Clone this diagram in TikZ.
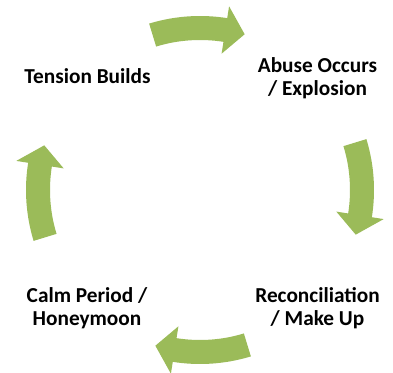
\documentclass[tikz,border=0pt]{standalone}
\usepackage{fontspec}
\setmainfont{Carlito}
\usepackage{xcolor}
\definecolor{arrowgreen}{HTML}{9BBB59}
\tikzset{
  cyclearrow/.style={fill=arrowgreen},
  phase/.style={align=center,inner sep=0,font=\bfseries\fontsize{21.3}{22.7}\selectfont}
}

\begin{document}
\begin{tikzpicture}[x=1pt,y=1pt]
\useasboundingbox (0,0) rectangle (393,372);
\begin{scope}[shift={(200,182)}]
% top
\fill[cyclearrow] (107:174) arc[start angle=107,end angle=81,radius=174] -- (81:186) -- (74:162) -- (81:138) -- (81:150) arc[start angle=81,end angle=107,radius=150] -- cycle;
% right
\fill[cyclearrow] (17:174) arc[start angle=17,end angle=-9,radius=174] -- (-9:186) -- (-16:162) -- (-9:138) -- (-9:150) arc[start angle=-9,end angle=17,radius=150] -- cycle;
% bottom
\fill[cyclearrow] (-73:174) arc[start angle=-73,end angle=-99,radius=174] -- (-99:186) -- (-106:162) -- (-99:138) -- (-99:150) arc[start angle=-99,end angle=-73,radius=150] -- cycle;
% left
\fill[cyclearrow] (197:174) arc[start angle=197,end angle=171,radius=174] -- (171:186) -- (164:162) -- (171:138) -- (171:150) arc[start angle=171,end angle=197,radius=150] -- cycle;
\end{scope}
\node[phase] (tension) at (87.5,295.7) {Tension Builds};
\node[phase] (abuse) at (317.5,294) {Abuse Occurs\\/ Explosion};
\node[phase] (reconcile) at (317.5,64) {Reconciliation\\/ Make Up};
\node[phase] (calm) at (87,64) {Calm Period /\\Honeymoon};
\end{tikzpicture}
\end{document}
